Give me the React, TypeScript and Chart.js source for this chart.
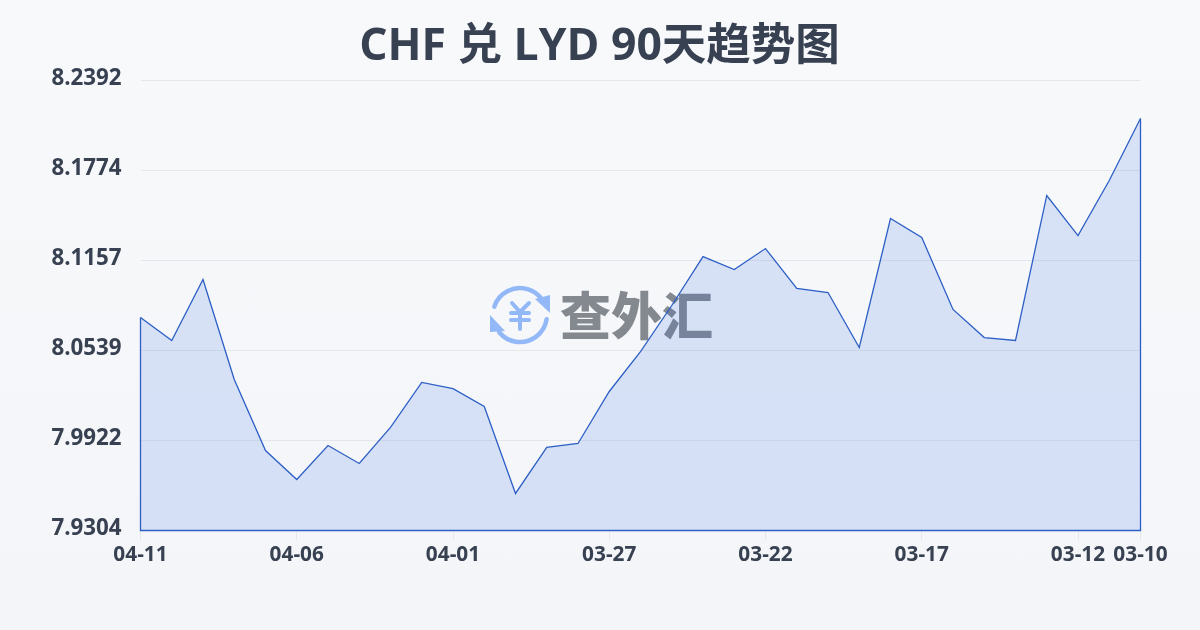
import React, { useEffect, useRef } from "react";
import { Chart, registerables } from "chart.js";

Chart.register(...registerables);

const titleText = "CHF 兑 LYD 90天趋势图";
const watermarkText = "查外汇";
const dates = [
  "04-11","04-10","04-09","04-08","04-07","04-06","04-05","04-04","04-03","04-02","04-01",
  "03-31","03-30","03-29","03-28","03-27","03-26","03-25","03-24","03-23","03-22","03-21",
  "03-20","03-19","03-18","03-17","03-16","03-15","03-14","03-13","03-12","03-11","03-10",
];
const rates = [
  8.0766,8.0608,8.1026,8.034,7.9853,7.9654,7.9887,7.9764,8.0011,8.032,8.0278,
  8.0155,7.9558,7.9874,7.9901,8.0258,8.0532,8.0848,8.1184,8.1095,8.1239,8.0965,
  8.0937,8.056,8.1445,8.1315,8.0821,8.0628,8.0608,8.1603,8.1328,8.1706,8.2131,
];
const yTicks = [7.9304, 7.9922, 8.0539, 8.1157, 8.1774, 8.2392];
const xTickLabels = ["04-11","04-06","04-01","03-27","03-22","03-17","03-12","03-10"];

const FONT = '"Open Sans", "Noto Sans CJK SC", sans-serif';
const LINE = "#2d5fc6";

const decorPlugin = {
  id: "decor",
  beforeDatasetsDraw(chart: any) {
    const ctx = chart.ctx;
    ctx.save();
    ctx.strokeStyle = "#93b8f8";
    ctx.fillStyle = "#93b8f8";
    ctx.lineWidth = 4.5;
    ctx.lineCap = "round";
    const cx = 520, cy = 315, r = 27;
    ctx.beginPath();
    ctx.arc(cx, cy, r, Math.PI * 1.1, Math.PI * 1.8);
    ctx.stroke();
    ctx.beginPath();
    ctx.arc(cx, cy, r, Math.PI * 0.05, Math.PI * 0.78);
    ctx.stroke();
    ctx.beginPath();
    ctx.moveTo(535, 299); ctx.lineTo(550, 295); ctx.lineTo(550, 313); ctx.closePath();
    ctx.fill();
    ctx.beginPath();
    ctx.moveTo(490, 315); ctx.lineTo(505, 331); ctx.lineTo(490, 332); ctx.closePath();
    ctx.fill();
    ctx.lineWidth = 4;
    ctx.beginPath();
    ctx.moveTo(512, 303); ctx.lineTo(520, 312); ctx.lineTo(529, 303);
    ctx.moveTo(520, 312); ctx.lineTo(520, 329);
    ctx.moveTo(511, 313); ctx.lineTo(529, 313);
    ctx.moveTo(511, 320); ctx.lineTo(529, 320);
    ctx.stroke();
    ctx.fillStyle = "#84898f";
    ctx.font = `900 51px "Noto Sans CJK SC", sans-serif`;
    ctx.textBaseline = "middle";
    ctx.textAlign = "left";
    ctx.fillText(watermarkText, 560, 316);
    ctx.restore();
  },
  afterDatasetsDraw(chart: any) {
    const pts = chart.getDatasetMeta(0).data;
    const bottom = chart.scales.y.bottom;
    const ctx = chart.ctx;
    ctx.save();
    ctx.strokeStyle = LINE;
    ctx.lineWidth = 1.3;
    ctx.beginPath();
    ctx.moveTo(pts[0].x, pts[0].y);
    ctx.lineTo(pts[0].x, bottom);
    ctx.lineTo(pts[pts.length - 1].x, bottom);
    ctx.lineTo(pts[pts.length - 1].x, pts[pts.length - 1].y);
    ctx.stroke();
    ctx.restore();
  },
};

export default function App() {
  const ref = useRef<HTMLCanvasElement>(null);
  useEffect(() => {
    document.body.style.margin = "0";
    const chart = new Chart(ref.current!, {
      type: "line",
      data: {
        labels: dates,
        datasets: [
          {
            data: rates,
            borderColor: LINE,
            borderWidth: 1.3,
            backgroundColor: "rgba(37,99,225,0.15)",
            fill: "start",
            tension: 0,
            pointRadius: 0,
          },
        ],
      },
      options: {
        animation: false,
        responsive: false,
        layout: { padding: { left: 0, right: 1, top: 0, bottom: 0 } },
        plugins: {
          legend: { display: false },
          tooltip: { enabled: false },
          title: {
            display: true,
            text: titleText,
            color: "#374151",
            font: { family: FONT, size: 44.5, weight: "bold", lineHeight: 1.2 },
            padding: { top: 21, bottom: 6.1 },
          },
        },
        scales: {
          x: {
            type: "category",
            afterBuildTicks(scale: any) {
              scale.ticks = dates
                .map((d, i) => ({ value: i, label: d }))
                .filter((t) => xTickLabels.includes(t.label));
            },
            afterFit(scale: any) {
              scale.height = 99.5;
            },
            ticks: {
              autoSkip: false,
              maxRotation: 0,
              minRotation: 0,
              color: "#374151",
              font: { family: FONT, size: 20.8, weight: "bold" },
              padding: 2,
            },
            grid: { display: true, drawOnChartArea: false, drawTicks: true, tickLength: 10, color: "#e5e7eb" },
            border: { display: false },
          },
          y: {
            type: "linear",
            min: yTicks[0],
            max: yTicks[yTicks.length - 1],
            afterBuildTicks(scale: any) {
              scale.ticks = yTicks.map((v) => ({ value: v }));
            },
            afterFit(scale: any) {
              scale.width = 140.5;
            },
            ticks: {
              color: "#374151",
              font: { family: FONT, size: 22.3, weight: "bold" },
              padding: 19,
              labelOffset: -1.5,
              callback: (v: any) => Number(v).toFixed(4),
            },
            grid: { color: "#e5e7eb", drawTicks: false, lineWidth: 1 },
            border: { display: false },
          },
          spacer: {
            type: "linear",
            position: "right",
            afterFit(scale: any) {
              scale.width = 58.5;
            },
            ticks: { display: false },
            grid: { display: false },
            border: { display: false },
          },
        },
      },
      plugins: [decorPlugin],
    } as any);
    return () => chart.destroy();
  }, []);
  return (
    <div style={{ width: 1200, height: 630, background: "linear-gradient(180deg,#f8f9fb 0%,#f3f5f8 100%)" }}>
      <canvas ref={ref} width={1200} height={630} style={{ display: "block" }} />
    </div>
  );
}
